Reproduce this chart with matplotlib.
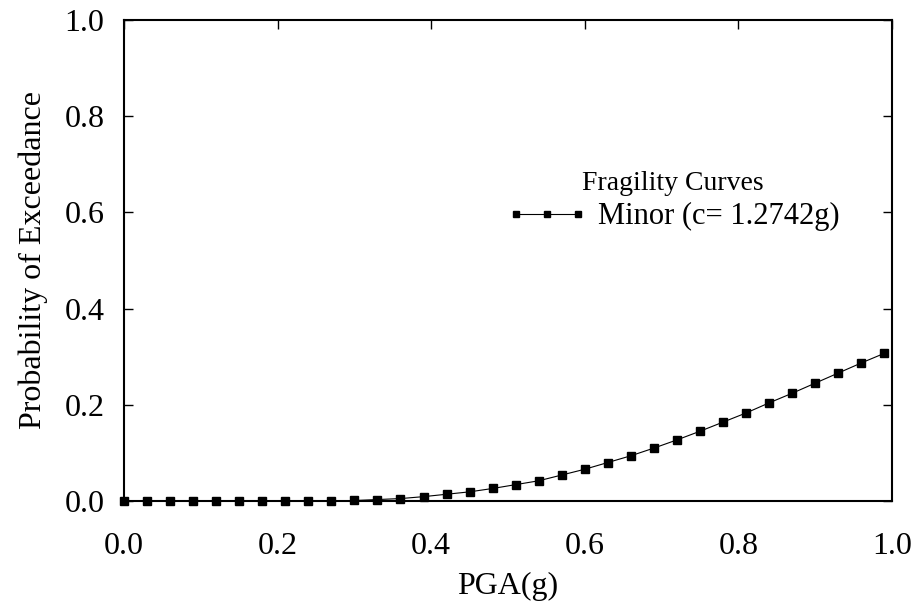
import matplotlib
matplotlib.use('Agg')
import matplotlib.pyplot as plt

plt.rcParams['font.family'] = ['Liberation Serif', 'DejaVu Serif']

pga = [0.00, 0.03, 0.06, 0.09, 0.12, 0.15, 0.18, 0.21, 0.24, 0.27,
       0.30, 0.33, 0.36, 0.39, 0.42, 0.45, 0.48, 0.51, 0.54, 0.57,
       0.60, 0.63, 0.66, 0.69, 0.72, 0.75, 0.78, 0.81, 0.84, 0.87,
       0.90, 0.93, 0.96, 0.99]
prob = [0.000, 0.000, 0.000, 0.000, 0.000, 0.000, 0.000, 0.000, 0.000, 0.000,
        0.001, 0.003, 0.005, 0.009, 0.014, 0.019, 0.026, 0.034, 0.042, 0.054,
        0.066, 0.080, 0.094, 0.110, 0.127, 0.145, 0.164, 0.183, 0.204, 0.224,
        0.245, 0.266, 0.287, 0.307]

fig = plt.figure(figsize=(9.15, 6.06), dpi=100)
ax = fig.add_axes([0.1355, 0.1733, 0.8394, 0.7937])

ax.plot(pga, prob, color='black', linewidth=0.8, marker='s', markersize=5.5,
        label='Minor (c= 1.2742g)', clip_on=False, zorder=3)

ax.set_xlim(0, 1)
ax.set_ylim(0, 1)
ax.set_xticks([0.0, 0.2, 0.4, 0.6, 0.8, 1.0])
ax.set_yticks([0.0, 0.2, 0.4, 0.6, 0.8, 1.0])
ax.xaxis.set_major_formatter(matplotlib.ticker.FormatStrFormatter('%.1f'))
ax.yaxis.set_major_formatter(matplotlib.ticker.FormatStrFormatter('%.1f'))

ax.tick_params(axis='y', direction='in', length=6.5, width=1, left=True, right=True,
               labelsize=23, pad=14)
ax.tick_params(axis='x', direction='in', length=6.5, width=1, bottom=False, top=True,
               labelsize=23, pad=22.5)
for s in ax.spines.values():
    s.set_linewidth(1.5)

ax.set_xlabel('PGA(g)', fontsize=23, labelpad=8)
ax.set_ylabel('Probability of Exceedance', fontsize=23, labelpad=12)

leg = ax.legend(title='Fragility Curves', loc='center', bbox_to_anchor=(0.715, 0.623),
                frameon=False, fontsize=22, title_fontsize=20, numpoints=3,
                markerscale=0.7, handlelength=2.65, handletextpad=0.35,
                labelspacing=0.2)

fig.savefig('out.png', dpi=100)
